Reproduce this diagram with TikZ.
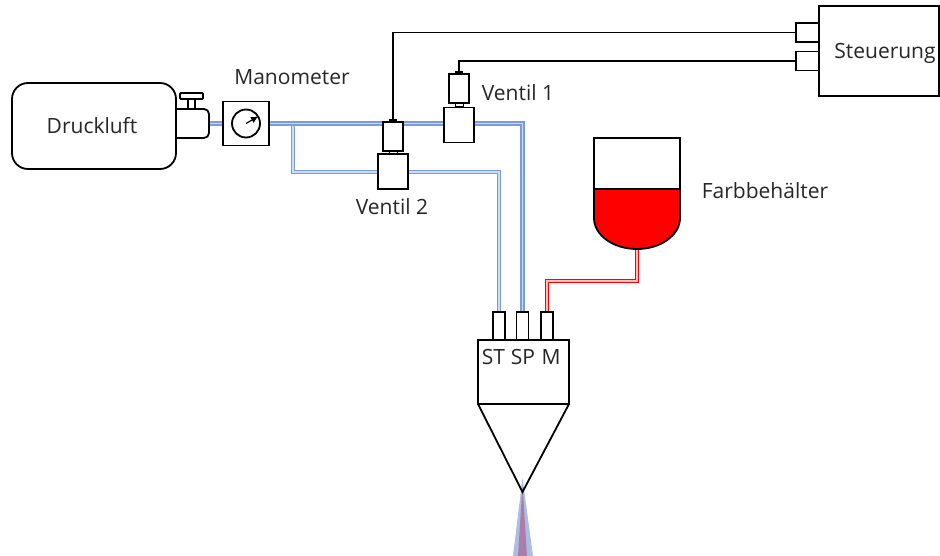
\documentclass[tikz,border=0pt]{standalone}
\usepackage{fontspec}
\setmainfont{Open Sans}
\usetikzlibrary{arrows.meta, positioning, backgrounds}
\definecolor{air-blue}{RGB}{122,155,220}
\definecolor{air-core}{RGB}{205,219,243}
\definecolor{paint-red}{RGB}{255,0,0}
\definecolor{paint-core}{RGB}{255,190,190}
\definecolor{spray-blue}{RGB}{170,190,228}
\definecolor{spray-mix}{RGB}{170,125,170}

\begin{document}
\begin{tikzpicture}[
    x=1pt, y=-1pt,
    every node/.style={font=\fontsize{21}{24}\selectfont, inner sep=0pt, outer sep=0pt},
    part/.style={rectangle, draw=black, line width=1.8pt, fill=white},
    label/.style={text=black!85, anchor=base},
    valvebody/.style={part, minimum width=30pt, minimum height=35pt},
    valvehead/.style={part, minimum width=20pt, minimum height=29pt},
    valveneck/.style={part, line width=1pt, minimum width=8pt, minimum height=3pt},
    valvecap/.style={rectangle, fill=black, minimum width=8pt, minimum height=2.5pt},
    port/.style={part, minimum width=12pt, minimum height=28pt},
    sideport/.style={part, minimum width=23pt, minimum height=19pt},
    wire/.style={draw=black, line width=1.8pt},
    airpipe/.style={draw=air-blue, double=air-core, double distance=1.6pt, line width=1.3pt},
    paintpipe/.style={draw=paint-red, double=paint-core, double distance=1.6pt, line width=1.3pt},
  ]
    \useasboundingbox (0,0) rectangle (940,556);

    \node[part, rounded corners=5pt, minimum width=41pt, minimum height=29pt] (valve) at (188.5,123.5) {};
    \node[part, minimum width=7pt, minimum height=10pt] (valvestem) at (191.5,104) {};
    \node[part, rounded corners=1pt, minimum width=23pt, minimum height=6pt] (valvehandle) at (191.5,96) {};
    \node[part, rounded corners=16pt, minimum width=164pt, minimum height=86pt] (druckluft) at (94,126) {};
    \node[label] (druckluftlabel) at (92,134) {Druckluft};

    \node[part, minimum width=46pt, minimum height=44pt] (manometer) at (246,123.5) {};
    \node[draw=black, line width=1.8pt, circle, minimum size=28pt] (dial) at (246,123.5) {};
    \draw[line width=1.2pt, -{Latex[length=7pt, width=7pt]}] (dial.center) -- (dial.30);
    \node[label] (manometerlabel) at (292,85) {Manometer};

    \node[valvebody] (ventilzweibody) at (393,171.5) {};
    \node[valveneck, at={(393,152.5)}] (ventilzweineck) {};
    \node[valvehead, at={(393,136.5)}] (ventilzweihead) {};
    \node[valvecap, above=0pt of ventilzweihead] (ventilzweicap) {};
    \node[label] (ventilzweilabel) at (392,215) {Ventil 2};

    \node[valvebody] (ventileinsbody) at (459,125) {};
    \node[valveneck, at={(459,105)}] (ventileinsneck) {};
    \node[valvehead, at={(459,88.5)}] (ventileinshead) {};
    \node[valvecap, above=0pt of ventileinshead] (ventileinscap) {};
    \node[label] (ventileinslabel) at (518,101) {Ventil 1};

    \node[part, minimum width=120pt, minimum height=90pt] (steuerung) at (879,51) {};
    \node[label] (steuerunglabel) at (885,59) {Steuerung};
    \node[sideport, at={(807.5,32.5)}] (porteins) {};
    \node[sideport, at={(807.5,61)}] (portzwei) {};

    \node[part, minimum width=86pt, minimum height=51pt] (tank) at (637,163.5) {};
    \fill[paint-red, draw=black, line width=1.8pt] (tank.south west) -- (594,218)
      .. controls (594,235) and (613,249) .. (637,249)
      .. controls (661,249) and (680,235) .. (680,218) -- (tank.south east) -- cycle;
    \coordinate (tankout) at (637,249);
    \coordinate (paintbend) at (637,281);
    \node[label] (tanklabel) at (765,199) {Farbbehälter};

    \node[part, minimum width=91pt, minimum height=64pt] (head) at (523.5,372) {};
    \node[port, at={(499,326)}] (stport) {};
    \node[port, at={(522.5,326)}] (spport) {};
    \node[port, at={(547,326)}] (mport) {};
    \node[label] (stlabel) at (493.5,364) {ST};
    \node[label] (splabel) at (523,364) {SP};
    \node[label] (mlabel) at (551,364) {M};

    \coordinate (nozzletip) at (522.5,492);
    \draw[part, fill=none] (head.south west) -- (nozzletip) -- (head.south east);

    \coordinate (airbranch) at (293,123.5);
    \coordinate (airbend) at (293,172);

    \begin{scope}[on background layer]
      \fill[spray-blue] (522.5,478) -- (533,556) -- (513,556) -- cycle;
      \fill[spray-mix] (522.5,485) -- (527,556) -- (518,556) -- cycle;
      \draw[airpipe] (valve.east) -- (manometer.west);
      \draw[airpipe] (airbranch) -- (airbend) -| (stport.north);
      \draw[airpipe] (manometer.east) -| (spport.north);
      \draw[paintpipe] (tankout) -- (paintbend) -| (mport.north);
    \end{scope}

    \draw[wire] (ventilzweicap.north) |- (porteins.west);
    \draw[wire] (ventileinscap.north) |- (portzwei.west);
  \end{tikzpicture}
\end{document}
